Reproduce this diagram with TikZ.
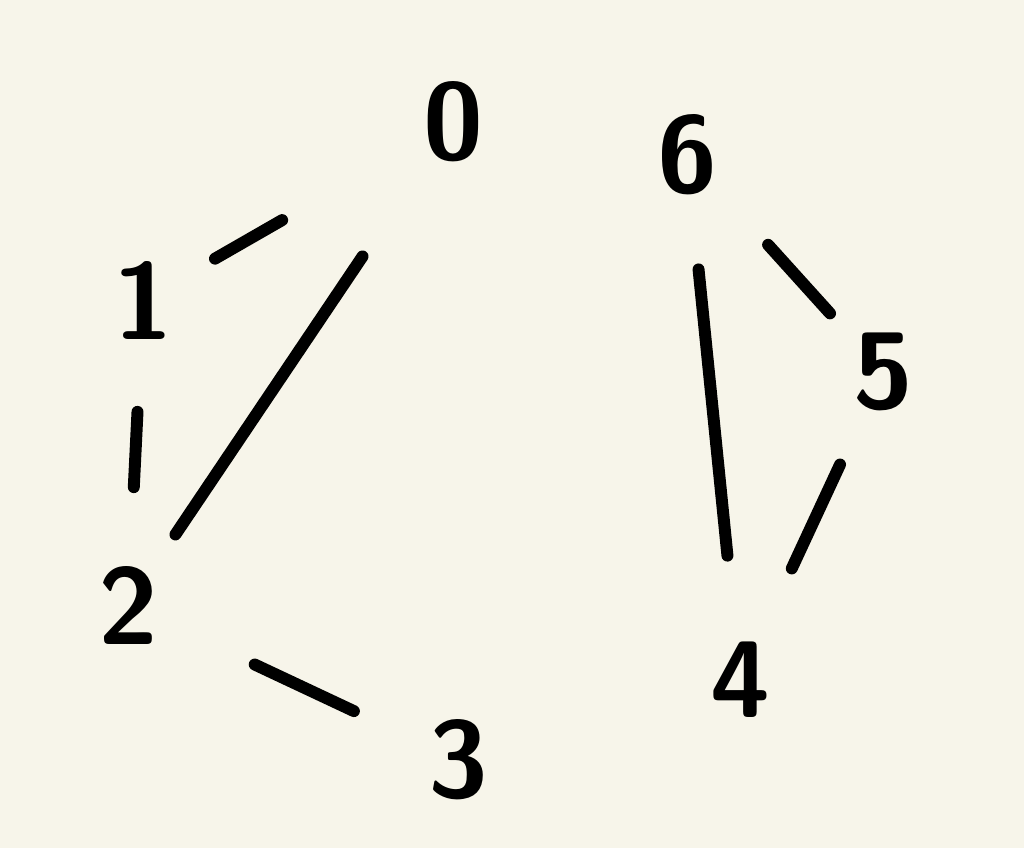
\documentclass[tikz,border=0pt]{standalone}
\usepackage{xcolor}
\definecolor{paper}{RGB}{247,245,234}

\begin{document}
\begin{tikzpicture}
    	[vert/.style={inner sep=0pt, font=\fontsize{31}{36}\selectfont\sffamily\bfseries},
    	 edge/.style={line width=3.4pt, line cap=round}]
    	\fill[paper] (0,0) rectangle (10.24,8.48);
    	\useasboundingbox (0,0) rectangle (10.24,8.48);

    	\node (n0) at (4.53,7.26) [vert] {0};
    	\node (n1) at (1.43,5.48) [vert] {1};
    	\node (n2) at (1.28,2.43) [vert] {2};
    	\node (n3) at (4.58,0.88) [vert] {3};
    	\node (n4) at (7.40,1.68) [vert] {4};
    	\node (n5) at (8.83,4.76) [vert] {5};
    	\node (n6) at (6.87,6.93) [vert] {6};

    	\draw[edge, shorten <=1.97cm, shorten >=0.83cm] (n0.center) -- (n1.center);
    	\draw[edge, shorten <=1.62cm, shorten >=0.85cm] (n0.center) -- (n2.center);
    	\draw[edge, shorten <=1.12cm, shorten >=1.18cm] (n1.center) -- (n2.center);
    	\draw[edge, shorten <=1.40cm, shorten >=1.15cm] (n2.center) -- (n3.center);
    	\draw[edge, shorten <=1.21cm, shorten >=0.79cm] (n6.center) -- (n5.center);
    	\draw[edge, shorten <=1.15cm, shorten >=1.25cm] (n6.center) -- (n4.center);
    	\draw[edge, shorten <=1.02cm, shorten >=1.23cm] (n5.center) -- (n4.center);
\end{tikzpicture}
\end{document}
